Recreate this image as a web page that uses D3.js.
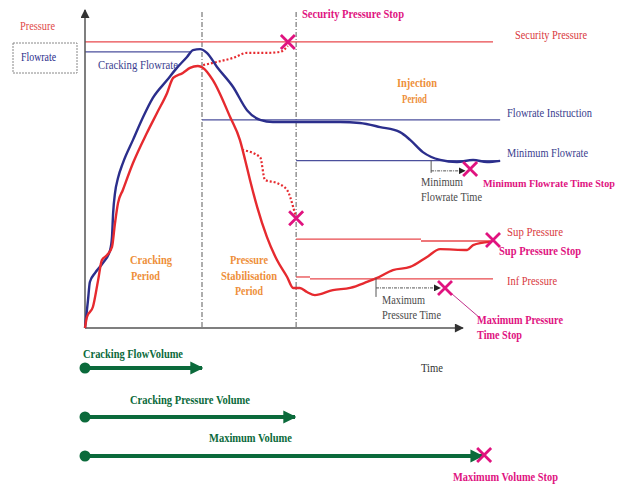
<!DOCTYPE html>
<html><head><meta charset="utf-8">
<script src="https://cdn.jsdelivr.net/npm/d3@7"></script>
<style>
html,body{margin:0;padding:0;background:#fff;}
svg{display:block;}
text{font-family:"Liberation Serif","Times New Roman",serif;}
</style></head>
<body><svg id="c" width="627" height="488"></svg>
<script>
// ---- data (time 0..100 = axis length; value 0..100 = axis height) ----
const flowrate = [[0,0],[0.8,8.9],[1.3,14.7],[2.7,17.6],[4.8,20.8],[6.7,24.9],[7.2,29.1],[7.5,36.7],[8.0,43.1],[8.8,47.9],[10.1,52.7],[12.8,60.1],[15.5,67.4],[18.1,73.5],[21.9,79.2],[24.5,83.1],[27.2,86.6],[28.8,88.8],[30.7,89.1],[32.5,87.9],[35.2,83.4],[39.5,77.0],[43.2,69.6],[46.7,66.5],[50.1,65.8],[57.3,65.8],[68.0,65.8],[73.3,65.5],[78.7,64.2],[84.0,62.6],[86.7,60.1],[90.1,56.2],[94.7,53.7],[99.2,53.0],[103.5,53.7],[107.2,53.0],[110.7,53.4]];
const pressure = [[0,0],[0.5,3.5],[2.1,6.7],[3.5,15.3],[4.5,21.7],[5.9,23.3],[7.2,25.9],[8.0,33.5],[8.8,39.9],[10.1,44.1],[12.8,52.7],[16.5,62.3],[19.2,68.7],[21.9,75.1],[23.5,79.9],[26.1,81.5],[28.0,83.1],[30.1,83.7],[31.5,83.1],[34.1,79.2],[38.7,67.4],[41.3,60.1],[42.7,53.7],[44.0,47.3],[45.9,38.7],[48.5,29.1],[51.2,21.7],[53.9,16.3],[55.5,12.8],[57.3,12.8],[59.2,11.5],[61.3,10.5],[66.1,12.1],[70.7,12.8],[75.2,14.7],[77.9,16.0],[82.1,18.5],[86.7,19.5],[91.2,22.7],[94.7,25.2],[101.9,24.9],[103.5,26.5],[108.0,27.5]];
const pressureRise = [[31.5,84.0],[35.2,85.0],[39.5,86.3],[43.2,87.9],[48.5,87.9],[52.0,88.2],[54.1,90.1]];
const pressureDrop = [[41.9,56.9],[46.7,54.6],[48.0,47.3],[51.2,46.3],[53.9,44.1],[55.5,38.7],[56.3,35.1]];
// thresholds: [label, value, tStart, tEnd, colorKey]
const thresholds = [
  ["Security Pressure", 91.4, 0, 108.8, "red"],
  ["Cracking Flowrate", 88.2, 0, 28.0, "blue"],
  ["Flowrate Instruction", 66.5, 31.2, 110.7, "blue"],
  ["Minimum Flowrate", 53.5, 56.3, 110.7, "blue"],
  ["Sup Pressure a", 28.4, 56.3, 89.6, "red"],
  ["Sup Pressure b", 27.8, 89.6, 108.8, "red"],
  ["Inf Pressure a", 16.3, 56.3, 60.0, "red"],
  ["Inf Pressure b", 15.7, 60.0, 108.8, "red"]
];
const phaseBounds = [31.2, 56.3];
const stops = [[54.1,91.4],[56.3,35.1],[102.7,50.8],[108.8,28.1],[96.0,12.8]];
const timers = [ // [tStart, tEnd, valueFrom, valueArrow]
  [92.3, 101.3, 53.5, 50.2],
  [77.6, 94.7, 16.0, 12.8]
];
const volumes = [["Cracking FlowVolume", 31.2], ["Cracking Pressure Volume", 56.0], ["Maximum Volume", 105.9]];

// ---- drawing ----
const svg = d3.select("#c");
const C = {red:"#e62a2f", blue:"#2b2e8c", orange:"#ee8f3a", mag:"#e0137f", green:"#0b6a3b", gray:"#4a4a4a", axis:"#555"};
const x = d3.scaleLinear().domain([0,100]).range([85,460]);
const y = d3.scaleLinear().domain([0,100]).range([328,15]);

const defs = svg.append("defs");
function marker(id, color, w, h){
  defs.append("marker").attr("id",id).attr("viewBox","0 0 10 10").attr("refX",9).attr("refY",5)
    .attr("markerWidth",w).attr("markerHeight",h).attr("markerUnits","userSpaceOnUse").attr("orient","auto")
    .append("path").attr("d","M0,0L10,5L0,10Z").attr("fill",color);
}
marker("axarr", "#333", 10, 9);
marker("smarr", "#222", 7, 7);
marker("grarr", C.green, 13, 14);

// dashed phase lines
svg.selectAll(".phase").data(phaseBounds).join("line")
  .attr("x1",d=>x(d)).attr("x2",d=>x(d)).attr("y1",12).attr("y2",y(0))
  .attr("stroke","#777").attr("stroke-width",1.2).attr("stroke-dasharray","5,2,1,2");

// thresholds
svg.selectAll(".thr").data(thresholds).join("line")
  .attr("x1",d=>x(d[2])).attr("x2",d=>x(d[3])).attr("y1",d=>y(d[1])).attr("y2",d=>y(d[1]))
  .attr("stroke",d=>d[4]==="red"?"#e8494c":"#4b4f9c").attr("stroke-width",1.3);

// axes
svg.append("line").attr("x1",x(0)).attr("x2",x(0)).attr("y1",y(0)).attr("y2",10)
  .attr("stroke",C.axis).attr("stroke-width",1.5).attr("marker-end","url(#axarr)");
svg.append("line").attr("x1",x(0)).attr("x2",x(100)+3).attr("y1",y(0)).attr("y2",y(0))
  .attr("stroke",C.axis).attr("stroke-width",1.5).attr("marker-end","url(#axarr)");

const line = d3.line().x(d=>x(d[0])).y(d=>y(d[1])).curve(d3.curveMonotoneX);
svg.append("path").attr("d",line(pressureRise)).attr("fill","none").attr("stroke",C.red).attr("stroke-width",2.2).attr("stroke-dasharray","2,2");
svg.append("path").attr("d",line(pressureDrop)).attr("fill","none").attr("stroke",C.red).attr("stroke-width",2.2).attr("stroke-dasharray","2,2");
svg.append("path").attr("d",line(flowrate)).attr("fill","none").attr("stroke",C.blue).attr("stroke-width",2.4);
svg.append("path").attr("d",line(pressure)).attr("fill","none").attr("stroke",C.red).attr("stroke-width",2.4);

// timers
const timerTail = [2, 9];
timers.forEach((t,i)=>{
  svg.append("line").attr("x1",x(t[0])).attr("x2",x(t[0])).attr("y1",y(t[2])).attr("y2",y(t[3])+timerTail[i])
    .attr("stroke","#555").attr("stroke-width",1);
  svg.append("line").attr("x1",x(t[0])).attr("x2",x(t[1])).attr("y1",y(t[3])).attr("y2",y(t[3]))
    .attr("stroke","#555").attr("stroke-width",1).attr("stroke-dasharray","3,1,1,1").attr("marker-end","url(#smarr)");
});

// connector for max pressure stop
svg.append("line").attr("x1",x(96.0)).attr("y1",y(12.8)).attr("x2",480).attr("y2",318)
  .attr("stroke","#c0308a").attr("stroke-width",1);

// volume arrows
const vy = [368, 417, 456];
volumes.forEach((v,i)=>{
  svg.append("line").attr("x1",x(0)).attr("x2",x(v[1])).attr("y1",vy[i]).attr("y2",vy[i])
    .attr("stroke",C.green).attr("stroke-width",4).attr("marker-end","url(#grarr)");
  svg.append("circle").attr("cx",x(0)).attr("cy",vy[i]).attr("r",5.5).attr("fill",C.green);
});

// stop crosses
const allStops = stops.map(s=>[x(s[0]),y(s[1])]).concat([[x(105.9)+2,455]]);
allStops.forEach(p=>{
  const r=7;
  svg.append("path").attr("d",`M${p[0]-r},${p[1]-r}L${p[0]+r},${p[1]+r}M${p[0]+r},${p[1]-r}L${p[0]-r},${p[1]+r}`)
    .attr("stroke",C.mag).attr("stroke-width",2.8).attr("fill","none");
});

// legend box
svg.append("rect").attr("x",13).attr("y",43).attr("width",64).attr("height",30)
  .attr("fill","none").attr("stroke","#888").attr("stroke-width",1).attr("stroke-dasharray","2,1");

// labels: [text, x, y, color, bold, width, fontSize]
const labels = [
  ["Pressure",20,30,"#e04a4a",0,35],
  ["Flowrate",21,61,C.blue,0,35],
  ["Cracking Flowrate",98,69,"#3a3e8e",0,80],
  ["Security Pressure Stop",302,18,C.mag,1,102],
  ["Security Pressure",515,39,"#d9393e",0,72],
  ["Injection",397,87,C.orange,1,40],
  ["Period",402,103,C.orange,1,25],
  ["Flowrate Instruction",507,117,"#3a3e8e",0,85],
  ["Minimum Flowrate",507,157,"#3a3e8e",0,81],
  ["Minimum Flowrate Time Stop",483,187,C.mag,1,132,11],
  ["Minimum",421,186,C.gray,0,42],
  ["Flowrate Time",421,201,C.gray,0,61],
  ["Sup  Pressure",507,236,"#d9393e",0,56],
  ["Sup Pressure Stop",499,255,C.mag,1,82],
  ["Inf Pressure",507,285,"#d9393e",0,50],
  ["Maximum",382,304,C.gray,0,43],
  ["Pressure Time",382,319,C.gray,0,59],
  ["Maximum Pressure",477,324,C.mag,1,86],
  ["Time Stop",477,339,C.mag,1,45],
  ["Cracking",130,264,C.orange,1,42],
  ["Period",131,280,C.orange,1,29],
  ["Pressure",230,264,C.orange,1,38],
  ["Stabilisation",221,280,C.orange,1,56],
  ["Period",235,295,C.orange,1,28],
  ["Time",421,372,"#333",0,22],
  ["Cracking FlowVolume",83,358,C.green,1,100],
  ["Cracking Pressure Volume",130,404,C.green,1,120],
  ["Maximum Volume",209,442,C.green,1,83],
  ["Maximum Volume Stop",453,481,C.mag,1,105]
];
svg.selectAll(".lbl").data(labels).join("text")
  .attr("x",d=>d[1]).attr("y",d=>d[2]).attr("fill",d=>d[3])
  .attr("font-weight",d=>d[4]?"bold":"normal").attr("font-size",d=>d[6]||12)
  .attr("textLength",d=>d[5]).attr("lengthAdjust","spacingAndGlyphs")
  .text(d=>d[0]);
</script></body></html>
